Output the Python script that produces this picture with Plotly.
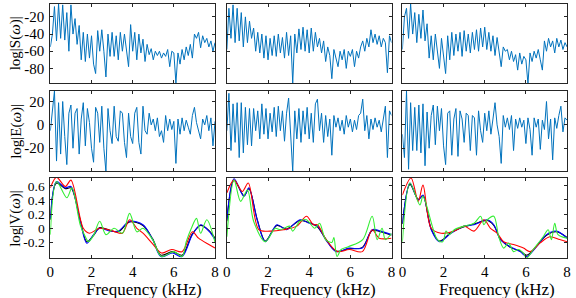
import plotly.graph_objects as go

# ---------------- data ----------------
FREQ_STEP = 0.1  # kHz between spectral samples
X_TICKS = [0, 2, 4, 6, 8]
X_TICK_TEXT = ["0", "2", "4", "6", "8"]

S_TICKS = [-80, -60, -40, -20]
S_TICK_TEXT = ["-80", "-60", "-40", "-20"]
E_TICKS = [-20, 0, 20]
E_TICK_TEXT = ["-20", "0", "20"]
V_TICKS = [-0.2, 0, 0.2, 0.4, 0.6]
V_TICK_TEXT = ["-0.2", "0", "0.2", "0.4", "0.6"]

S1 = [-55, -40, -8, -48, -5, -45, -6, -47, -15, -60, -6, -40, -22, -52, -30, -70, -38, -72, -40, -68,
      -42, -75, -86, -36, -60, -35, -60, -90, -40, -66, -38, -66, -42, -70, -38, -60, -40, -62, -78, -29,
      -60, -38, -70, -40, -62, -46, -72, -52, -64, -57, -70, -60, -65, -60, -68, -62, -66, -58, -78, -60,
      -62, -97, -62, -75, -58, -70, -55, -65, -52, -68, -40, -45, -38, -56, -42, -50, -45, -55, -48, -60,
      -50]
S2 = [-58, -10, -45, -6, -50, -10, -48, -15, -55, -20, -50, -25, -45, -33, -60, -38, -62, -40, -68, -42,
      -70, -45, -65, -42, -66, -40, -62, -44, -68, -38, -65, -42, -97, -40, -62, -34, -58, -32, -60, -35,
      -62, -33, -60, -38, -55, -45, -62, -48, -72, -55, -65, -92, -58, -68, -78, -60, -70, -58, -80, -60,
      -66, -58, -78, -60, -68, -55, -48, -60, -45, -55, -35, -50, -40, -52, -42, -55, -45, -50, -85, -42,
      -50]
S3 = [-58, -20, -10, -45, -5, -40, -15, -50, -17, -45, -12, -48, -28, -68, -42, -70, -40, -62, -80, -45,
      -65, -86, -42, -70, -38, -65, -40, -60, -38, -66, -36, -60, -40, -62, -38, -58, -35, -60, -33, -55,
      -32, -58, -38, -60, -42, -65, -44, -62, -78, -55, -60, -58, -70, -60, -72, -64, -82, -62, -75, -66,
      -70, -98, -62, -72, -60, -68, -58, -70, -82, -48, -60, -45, -55, -48, -62, -45, -55, -47, -58, -50,
      -55]

E1 = [-5, 10, 29, -31, 19, -25, 20, -10, -34, 10, 17, -20, 10, 14, -25, 5, 19, -18, 14, 2,
      -20, -32, 15, 10, -15, 16, -20, -40, 14, -5, -16, 16, -10, -14, 12, 10, -15, -28, 10, -10,
      -16, 10, 15, -15, -25, 16, -5, -8, 10, 0, 5, -5, 6, -10, -5, -15, 8, -5, 5, -4,
      3, -33, 5, -8, 6, -5, 4, -2, -8, 8, 15, 2, -5, -12, 5, 0, 8, -5, 6, -18,
      3]
E2 = [-5, 27, -22, 18, -15, 19, -28, 19, -24, 15, -17, 14, -18, 14, -5, 12, -12, 18, -8, 14,
      -12, 10, -6, 15, -10, 16, -5, 12, -14, 10, 23, -5, -40, 12, -12, 14, -15, 12, -8, 15,
      -12, 10, -15, 18, 22, -5, 10, -15, 8, -10, 5, -26, 8, -2, 6, -5, 4, -8, 8, -2,
      5, -6, 4, -4, 8, 10, 22, -5, 8, -12, 5, -4, 6, -2, 4, -6, 5, 16, -28, 12,
      8]
E3 = [-8, -28, 29, -38, 19, -22, 15, -22, 17, -24, 18, -35, 11, -20, 8, 17, -17, 16, -5, 14,
      -18, -34, 10, 12, -26, 5, 14, -27, 12, 5, -15, 10, 8, -22, 8, 6, -26, 12, -5, -15,
      10, -5, 12, -8, 5, 19, 0, -10, -33, 8, -2, 6, -4, 8, -22, 5, -3, 6, -2, 4,
      -16, 6, -4, -26, 6, -2, 5, -21, 4, -4, 20, -12, 5, -30, 6, -3, 8, 16, -6, 6,
      4]

# V curves: (frequency knots, values)
V1_BLUE_X = [0, 0.3, 0.73, 1.0, 1.45, 1.77, 2.1, 2.4, 2.9, 3.3, 3.85, 4.5, 4.97, 5.37, 5.93, 6.4, 6.9, 7.3, 7.7, 8.0]
V1_BLUE_Y = [0.14, 0.66, 0.57, 0.59, 0.1, -0.21, -0.09, 0.0, -0.04, -0.04, 0.1, 0.05, -0.16, -0.4, -0.35, -0.4, -0.09, 0.05, -0.04, -0.16]
V1_BLACK_Y = [0.12, 0.64, 0.56, 0.57, 0.12, -0.19, -0.1, 0.01, -0.03, -0.05, 0.09, 0.04, -0.15, -0.38, -0.33, -0.38, -0.08, 0.04, -0.03, -0.14]
V1_RED_X = [0, 0.3, 0.73, 1.0, 1.6, 1.9, 2.4, 3.05, 3.5, 3.85, 4.2, 4.5, 5.0, 5.4, 5.9, 6.4, 6.9, 7.2, 7.7, 8.0]
V1_RED_Y = [0.57, 0.72, 0.59, 0.68, 0.0, -0.07, 0.0, -0.04, -0.07, 0.12, 0.0, -0.07, -0.23, -0.35, -0.3, -0.33, -0.05, -0.14, -0.23, -0.28]
V1_GREEN_X = [0, 0.3, 0.8, 1.05, 1.45, 1.7, 1.85, 2.1, 2.4, 2.7, 3.1, 3.5, 3.85, 4.2, 4.5, 4.97, 5.4, 6.0, 6.4, 6.6, 6.85, 7.1, 7.3, 7.6, 8.0]
V1_GREEN_Y = [-0.09, 0.66, 0.43, 0.57, 0.05, -0.12, -0.19, -0.1, 0.1, -0.09, 0.0, -0.07, 0.21, -0.05, 0.0, -0.16, -0.4, -0.33, -0.4, -0.19, 0.0, 0.14, -0.07, 0.12, -0.2]

V2_BLUE_X = [0, 0.35, 0.83, 1.07, 1.47, 1.87, 2.43, 2.9, 3.55, 4.0, 4.4, 4.8, 5.3, 5.94, 6.58, 7.06, 7.46, 8.0]
V2_BLUE_Y = [0.12, 0.7, 0.45, 0.57, 0.12, -0.19, 0.05, -0.02, 0.12, 0.07, 0.03, -0.16, -0.33, -0.28, -0.28, -0.02, -0.04, -0.09]
V2_BLACK_Y = [0.1, 0.68, 0.46, 0.56, 0.13, -0.18, 0.04, -0.01, 0.11, 0.08, 0.02, -0.15, -0.32, -0.29, -0.27, -0.03, -0.05, -0.1]
V2_RED_X = [0, 0.35, 0.75, 1.04, 1.55, 2.1, 2.75, 3.4, 3.87, 4.2, 4.4, 4.82, 5.38, 5.94, 6.58, 7.06, 7.4, 8.0]
V2_RED_Y = [0.5, 0.68, 0.52, 0.64, -0.02, -0.04, -0.02, 0.03, 0.17, 0.05, 0.05, -0.16, -0.33, -0.3, -0.33, -0.02, -0.14, -0.14]
V2_GREEN_X = [0, 0.35, 0.67, 1.0, 1.3, 1.87, 2.35, 2.6, 3.05, 3.2, 3.55, 3.87, 4.27, 4.5, 4.8, 5.1, 5.2, 5.35, 5.55, 5.9, 6.6, 7.06, 7.3, 7.54, 7.7, 8.0]
V2_GREEN_Y = [-0.12, 0.68, 0.38, 0.54, 0.1, -0.19, 0.0, -0.02, 0.03, -0.04, 0.1, 0.12, 0.0, 0.07, -0.16, -0.2, -0.13, -0.4, -0.3, -0.26, -0.16, 0.17, -0.16, 0.0, -0.16, -0.07]

V3_BLUE_X = [0, 0.37, 0.77, 1.0, 1.4, 1.8, 2.36, 3.0, 3.48, 4.12, 4.44, 4.76, 5.24, 5.72, 6.04, 6.52, 7.0, 7.48, 8.0]
V3_BLUE_Y = [0.07, 0.64, 0.4, 0.47, -0.02, -0.19, -0.07, 0.03, 0.05, 0.12, 0.05, -0.16, -0.26, -0.33, -0.4, -0.26, -0.09, -0.04, -0.14]
V3_BLACK_Y = [0.06, 0.62, 0.41, 0.46, -0.01, -0.18, -0.06, 0.02, 0.06, 0.11, 0.04, -0.15, -0.27, -0.32, -0.38, -0.25, -0.1, -0.05, -0.13]
V3_RED_X = [0, 0.42, 0.77, 1.0, 1.4, 1.88, 2.52, 3.0, 3.48, 3.96, 4.28, 4.6, 4.92, 5.4, 5.88, 6.2, 6.68, 7.16, 7.64, 8.0]
V3_RED_Y = [0.47, 0.71, 0.38, 0.61, 0.0, -0.07, -0.04, 0.03, -0.04, 0.12, 0.0, -0.07, -0.19, -0.23, -0.28, -0.33, -0.21, -0.12, -0.16, -0.19]
V3_GREEN_X = [0, 0.37, 0.85, 1.0, 1.7, 1.96, 2.12, 2.28, 2.52, 3.0, 3.48, 3.8, 3.96, 4.12, 4.44, 4.68, 4.92, 5.16, 5.4, 5.64, 5.88, 6.04, 6.36, 6.84, 7.08, 7.24, 7.4, 7.56, 8.0]
V3_GREEN_Y = [-0.19, 0.64, 0.33, 0.45, -0.16, -0.19, -0.04, -0.09, -0.02, 0.03, 0.07, 0.17, 0.05, 0.12, 0.17, -0.12, -0.28, -0.21, -0.33, -0.3, -0.35, -0.42, -0.3, -0.12, -0.02, -0.16, 0.07, -0.09, -0.14]

# ---------------- figure ----------------
W, H = 576, 298
FONT = "Liberation Serif"
SPEC_COLOR = "#0072BD"
AX_COLOR = "#262626"

col_px = [(47, 214), (226, 393), (404, 571)]
row_px = [(4, 83), (91, 171), (178, 258)]
x_title_px = [142, 318, 500]
x_dom = [[a / W, b / W] for a, b in col_px]
y_dom = [[1 - b / H, 1 - a / H] for a, b in row_px]

fig = go.Figure()

def fx(vals):
    return [round(i * FREQ_STEP, 4) for i in range(len(vals))]

spectra = [[S1, S2, S3], [E1, E2, E3]]
vsets = [
    [(V1_BLUE_X, V1_BLUE_Y, "#0000FF"), (V1_BLUE_X, V1_BLACK_Y, "#000000"), (V1_RED_X, V1_RED_Y, "#FF0000"), (V1_GREEN_X, V1_GREEN_Y, "#33EE33")],
    [(V2_BLUE_X, V2_BLUE_Y, "#0000FF"), (V2_BLUE_X, V2_BLACK_Y, "#000000"), (V2_RED_X, V2_RED_Y, "#FF0000"), (V2_GREEN_X, V2_GREEN_Y, "#33EE33")],
    [(V3_BLUE_X, V3_BLUE_Y, "#0000FF"), (V3_BLUE_X, V3_BLACK_Y, "#000000"), (V3_RED_X, V3_RED_Y, "#FF0000"), (V3_GREEN_X, V3_GREEN_Y, "#33EE33")],
]
y_ranges = [[-97, -5], [-39.5, 29], [-0.42, 0.71]]
y_ticks = [(S_TICKS, S_TICK_TEXT), (E_TICKS, E_TICK_TEXT), (V_TICKS, V_TICK_TEXT)]
y_tick_size = [15, 15, 13.5]

layout = {}
for r in range(3):
    for c in range(3):
        n = r * 3 + c + 1
        xa = "x" if n == 1 else f"x{n}"
        ya = "y" if n == 1 else f"y{n}"
        if r < 2:
            vals = spectra[r][c]
            fig.add_trace(go.Scatter(x=fx(vals), y=vals, mode="lines",
                                     line=dict(color=SPEC_COLOR, width=1),
                                     xaxis=xa, yaxis=ya, showlegend=False))
        else:
            order = [1, 0, 2, 3]
            for k in order:
                xs, ys, col = vsets[c][k]
                fig.add_trace(go.Scatter(x=xs, y=ys, mode="lines",
                                         line=dict(color=col, width=1.1, shape="spline", smoothing=0.9),
                                         xaxis=xa, yaxis=ya, showlegend=False))
        key_x = "xaxis" if n == 1 else f"xaxis{n}"
        key_y = "yaxis" if n == 1 else f"yaxis{n}"
        layout[key_x] = dict(domain=x_dom[c], anchor=ya, range=[0, 8],
                             tickvals=X_TICKS, ticktext=X_TICK_TEXT,
                             showticklabels=(r == 2), ticks="inside", ticklen=3,
                             tickcolor=AX_COLOR, showline=True, linecolor=AX_COLOR,
                             linewidth=1, mirror="ticks", showgrid=False, zeroline=False,
                             ticklabelstandoff=0,
                             tickfont=dict(family=FONT, size=15, color="#000000"))
        tv, tt = y_ticks[r]
        layout[key_y] = dict(domain=y_dom[r], anchor=xa, range=y_ranges[r],
                             tickvals=tv, ticktext=tt,
                             showticklabels=(c == 0), ticks="inside", ticklen=3,
                             tickcolor=AX_COLOR, showline=True, linecolor=AX_COLOR,
                             linewidth=1, mirror="ticks", showgrid=False, zeroline=False,
                             ticklabelstandoff=2,
                             tickfont=dict(family=FONT, size=y_tick_size[r], color="#000000"))

annotations = []
y_titles = ["log|S(<i>ω</i>)|", "log|E(<i>ω</i>)|", "log|V(<i>ω</i>)|"]
for r in range(3):
    yc = (y_dom[r][0] + y_dom[r][1]) / 2
    annotations.append(dict(text=y_titles[r], x=12 / W, y=yc, xref="paper", yref="paper",
                            xanchor="center", yanchor="middle", textangle=-90, showarrow=False,
                            font=dict(family=FONT, size=15, color="#000000")))
for c in range(3):
    annotations.append(dict(text="Frequency (kHz)", x=x_title_px[c] / W, y=1 - 289 / H,
                            xref="paper", yref="paper",
                            xanchor="center", yanchor="middle", showarrow=False,
                            font=dict(family=FONT, size=17, color="#000000")))

fig.update_layout(width=W, height=H, margin=dict(l=0, r=0, t=0, b=0),
                  paper_bgcolor="white", plot_bgcolor="white",
                  font=dict(family=FONT),
                  annotations=annotations, **layout)

fig.write_html("out.html")
